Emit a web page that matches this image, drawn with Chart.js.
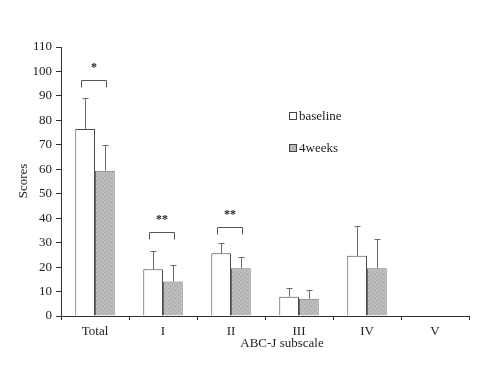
<!DOCTYPE html>
<html>
<head>
<meta charset="utf-8">
<script src="https://cdn.jsdelivr.net/npm/chart.js@4/dist/chart.umd.min.js"></script>
<style>
html,body{margin:0;padding:0;background:#fff;}
#wrap{width:500px;height:378px;position:relative;}
</style>
</head>
<body>
<div id="wrap"><canvas id="c" width="500" height="378"></canvas></div>
<script>
const categories = ['Total', 'I', 'II', 'III', 'IV', 'V'];
const baseline = [76.5, 19.1, 25.7, 7.9, 24.6, null];
const baselineSD = [12.7, 7.3, 4.1, 3.7, 12.3, null];
const weeks4 = [59.4, 14.1, 19.5, 7.1, 19.5, null];
const weeks4SD = [10.7, 6.7, 4.5, 3.7, 12.1, null];
const yTicks = [0,10,20,30,40,50,60,70,80,90,100,110];
const sigCategory = [0, 1, 2];
const sigLevel = [96.7, 34.2, 36.2];
const sigLabel = ['*', '**', '**'];
const seriesNames = ['baseline', '4weeks'];

const FONT = '"Liberation Serif", "DejaVu Serif", serif';

// hatched gray pattern
function makePattern() {
  const p = document.createElement('canvas');
  p.width = 4; p.height = 4;
  const g = p.getContext('2d');
  g.fillStyle = '#b9b9b9';
  g.fillRect(0,0,4,4);
  g.fillStyle = '#a6a6a6';
  g.fillRect(0,0,1,1); g.fillRect(2,2,1,1);
  g.fillStyle = '#c6c6c6';
  g.fillRect(2,0,1,1); g.fillRect(0,2,1,1);
  return document.getElementById('c').getContext('2d').createPattern(p, 'repeat');
}
const hatch = makePattern();
const sdArrays = [baselineSD, weeks4SD];

const extras = {
  id: 'extras',
  afterDatasetsDraw(chart) {
    const ctx = chart.ctx;
    const y = chart.scales.y;
    ctx.save();
    // error bars
    ctx.strokeStyle = '#6a6a6a';
    ctx.lineWidth = 1;
    chart.data.datasets.forEach((ds, di) => {
      const meta = chart.getDatasetMeta(di);
      ds.data.forEach((v, i) => {
        const sd = sdArrays[di][i];
        if (v == null || sd == null) return;
        const x = Math.round(meta.data[i].x) + 0.5;
        const y0 = y.getPixelForValue(v);
        const y1 = Math.round(y.getPixelForValue(v + sd)) + 0.5;
        ctx.beginPath();
        ctx.moveTo(x, y0); ctx.lineTo(x, y1);
        ctx.moveTo(x - 3, y1); ctx.lineTo(x + 3, y1);
        ctx.stroke();
      });
    });
    // significance brackets
    const m0 = chart.getDatasetMeta(0), m1 = chart.getDatasetMeta(1);
    ctx.strokeStyle = '#555';
    ctx.fillStyle = '#222';
    ctx.font = 'bold 12px ' + FONT;
    ctx.textAlign = 'center';
    ctx.textBaseline = 'middle';
    sigCategory.forEach((ci, k) => {
      const xa = Math.round(m0.data[ci].x - 4) + 0.5;
      const xb = Math.round(m1.data[ci].x + 1) + 0.5;
      const yb = Math.round(y.getPixelForValue(sigLevel[k])) + 0.5;
      ctx.beginPath();
      ctx.moveTo(xa, yb + 7); ctx.lineTo(xa, yb); ctx.lineTo(xb, yb); ctx.lineTo(xb, yb + 7);
      ctx.stroke();
      ctx.fillText(sigLabel[k], (xa + xb) / 2, yb - 13);
    });
    // legend
    const lx = 289, ly = [112, 144];
    ctx.textAlign = 'left';
    ctx.font = '13px ' + FONT;
    seriesNames.forEach((name, k) => {
      ctx.fillStyle = k === 0 ? '#fff' : hatch;
      ctx.fillRect(lx, ly[k], 7, 7);
      ctx.strokeStyle = '#444';
      ctx.strokeRect(lx + 0.5, ly[k] + 0.5, 7, 7);
      ctx.fillStyle = '#222';
      ctx.fillText(name, lx + 10, ly[k] + 4.5);
    });
    // axis titles
    ctx.fillStyle = '#222';
    ctx.textAlign = 'center';
    ctx.fillText('ABC-J subscale', 282, 344);
    ctx.translate(24, 181);
    ctx.rotate(-Math.PI / 2);
    ctx.fillText('Scores', 0, 0);
    ctx.restore();
  }
};

new Chart(document.getElementById('c'), {
  type: 'bar',
  data: {
    labels: categories,
    datasets: [
      { label: seriesNames[0], data: baseline, backgroundColor: '#ffffff', borderColor: '#4a4a4a', borderWidth: 1, borderSkipped: 'bottom' },
      { label: seriesNames[1], data: weeks4, backgroundColor: hatch, borderColor: '#6a6a6a', borderWidth: 1, borderSkipped: 'bottom' }
    ]
  },
  options: {
    responsive: false,
    animation: false,
    devicePixelRatio: 1,
    layout: { padding: { left: 0, right: 31, top: 47, bottom: 0 } },
    plugins: { legend: { display: false }, tooltip: { enabled: false } },
    datasets: { bar: { categoryPercentage: 0.58, barPercentage: 1 } },
    scales: {
      x: {
        grid: { display: true, drawOnChartArea: false, drawTicks: true, tickLength: 4, color: '#333', offset: true },
        border: { display: true, color: '#333', width: 1 },
        ticks: { color: '#222', font: { family: FONT, size: 13 }, padding: 4 },
        afterFit(s) { s.height = 62; }
      },
      y: {
        min: 0, max: 110,
        afterBuildTicks(s) { s.ticks = yTicks.map(v => ({ value: v })); },
        grid: { display: true, drawOnChartArea: false, drawTicks: true, tickLength: 5, color: '#333' },
        border: { display: true, color: '#333', width: 1 },
        ticks: { color: '#222', font: { family: FONT, size: 13 }, padding: 4 },
        afterFit(s) { s.width = 61; }
      }
    }
  },
  plugins: [extras]
});
</script>
</body>
</html>
